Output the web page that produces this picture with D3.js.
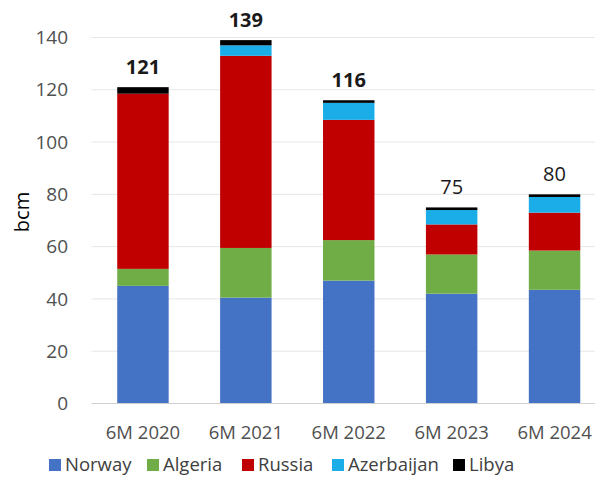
<!DOCTYPE html>
<html>
<head>
<meta charset="utf-8">
<script src="https://cdn.jsdelivr.net/npm/d3@7"></script>
<style>
  html, body { margin: 0; padding: 0; background: #fff; }
  svg { display: block; }
  text { font-family: "Open Sans", "Noto Sans", sans-serif; }
</style>
</head>
<body>
<svg id="chart" width="595" height="482"></svg>
<script>
// Pipeline gas supply by origin, first half of each year (bcm)
const periods = ["6M 2020", "6M 2021", "6M 2022", "6M 2023", "6M 2024"];
const sources = ["Norway", "Algeria", "Russia", "Azerbaijan", "Libya"];
const norway     = [45, 40.5, 47, 42, 43.5];
const algeria    = [6.5, 19, 15.5, 15, 15];
const russia     = [67, 73.5, 46, 11.5, 14.5];
const azerbaijan = [0, 4, 6.5, 5.5, 6];
const libya      = [2.5, 2, 1, 1, 1];
const totals     = [121, 139, 116, 75, 80];
const yTicks     = [0, 20, 40, 60, 80, 100, 120, 140];
const colors     = ["#4472C4", "#70AD47", "#C00000", "#1AADE8", "#000000"];

const seriesValues = [norway, algeria, russia, azerbaijan, libya];
const rows = periods.map((p, i) => {
  const r = { period: p, total: totals[i] };
  sources.forEach((s, k) => { r[s] = seriesValues[k][i]; });
  return r;
});

const svg = d3.select("#chart");
const plot = { left: 91.5, right: 606, top: 37.5, bottom: 403.5 };

const x = d3.scaleBand().domain(periods).range([plot.left, plot.right])
  .paddingInner(0.5).paddingOuter(0.25);
const y = d3.scaleLinear().domain([0, 140]).range([plot.bottom, plot.top]);
const color = d3.scaleOrdinal().domain(sources).range(colors);

// horizontal gridlines
svg.append("g")
  .selectAll("line")
  .data(yTicks.filter(t => t > 0))
  .join("line")
  .attr("x1", plot.left).attr("x2", 595)
  .attr("y1", d => y(d)).attr("y2", d => y(d))
  .attr("stroke", "#e6e6e6").attr("stroke-width", 1);

// value axis labels
const yAxis = d3.axisLeft(y).tickValues(yTicks).tickSize(0).tickPadding(0);
const gy = svg.append("g").attr("transform", "translate(68,0)").call(yAxis);
gy.select(".domain").remove();
gy.selectAll("text")
  .attr("fill", "#505050").style("font-size", "19px")
  .style("font-family", "'Open Sans', sans-serif");

// axis title
svg.append("text")
  .attr("transform", "translate(29,212) rotate(-90)")
  .attr("text-anchor", "middle")
  .attr("fill", "#000")
  .style("font-size", "20px")
  .text("bcm");

// stacked bars
const stack = d3.stack().keys(sources);
const layers = stack(rows);
svg.append("g")
  .selectAll("g")
  .data(layers)
  .join("g")
  .attr("fill", d => color(d.key))
  .selectAll("rect")
  .data(d => d)
  .join("rect")
  .attr("x", d => x(d.data.period))
  .attr("width", x.bandwidth())
  .attr("y", d => y(d[1]))
  .attr("height", d => Math.max(0, y(d[0]) - y(d[1])));

// category axis
svg.append("line")
  .attr("x1", plot.left).attr("x2", 595)
  .attr("y1", plot.bottom).attr("y2", plot.bottom)
  .attr("stroke", "#d0d0d0").attr("stroke-width", 1);
const xAxis = d3.axisBottom(x).tickSize(0).tickPadding(0);
const gx = svg.append("g").attr("transform", "translate(0,433)").call(xAxis);
gx.select(".domain").remove();
gx.selectAll("text")
  .attr("fill", "#505050").attr("dy", "0.35em").style("font-size", "18.5px")
  .style("font-family", "'Open Sans', sans-serif");

// total labels above each bar
svg.append("g")
  .selectAll("text")
  .data(rows)
  .join("text")
  .attr("x", d => x(d.period) + x.bandwidth() / 2)
  .attr("y", d => y(d.total) - 13)
  .attr("text-anchor", "middle")
  .attr("fill", "#1a1a1a")
  .style("font-size", "20px")
  .style("font-weight", (d, i) => i < 3 ? 700 : 400)
  .text(d => d.total);

// legend
const legendX = [49, 147, 242, 332, 453];
const legend = svg.append("g").attr("transform", "translate(0,465)");
const items = legend.selectAll("g").data(sources).join("g")
  .attr("transform", (d, i) => `translate(${legendX[i]},0)`);
items.append("rect")
  .attr("x", 0).attr("y", -6).attr("width", 12).attr("height", 12)
  .attr("fill", d => color(d));
items.append("text")
  .attr("x", 16).attr("y", 0).attr("dy", "0.35em")
  .attr("fill", "#404040").style("font-size", "18.5px")
  .text(d => d);
</script>
</body>
</html>
